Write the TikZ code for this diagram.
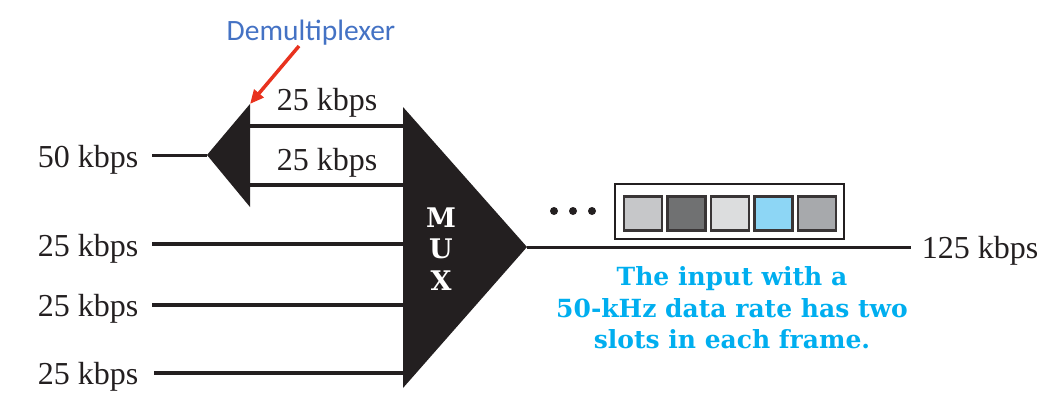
\documentclass[tikz,border=0pt]{standalone}
\usepackage{fontspec}
\setmainfont{Liberation Serif}
\newfontfamily\notefont{DejaVu Serif}
\newfontfamily\calib{Carlito}
\usetikzlibrary{arrows.meta}
\definecolor{demuxblue}{HTML}{4472C4}
\definecolor{notecyan}{HTML}{00AEEF}
\definecolor{arrowred}{HTML}{E8321E}
\definecolor{inkblack}{HTML}{231F20}
\definecolor{slotA}{HTML}{C6C7C9}
\definecolor{slotB}{HTML}{707172}
\definecolor{slotC}{HTML}{DCDDDE}
\definecolor{slotD}{HTML}{8DD6F5}
\definecolor{slotE}{HTML}{A7A9AC}
\begin{document}
\begin{tikzpicture}[x=1pt,y=-1pt,
  lbl/.style={font=\fontsize{32}{34}\selectfont, anchor=base, inner sep=0pt, text=inkblack},
  note/.style={font=\notefont\bfseries\fontsize{25}{30}\selectfont, anchor=base, inner sep=0pt, text=notecyan},
  muxletter/.style={font=\notefont\bfseries\fontsize{27}{30}\selectfont, anchor=base, inner sep=0pt, text=white},
  wire/.style={draw=inkblack, line width=4pt},
  thinwire/.style={draw=inkblack, line width=3pt},
  slot/.style={draw=inkblack!90, line width=2.5pt, minimum width=38pt, minimum height=34pt, inner sep=0pt},
  dot/.style={circle, fill=inkblack, minimum size=8pt, inner sep=0pt}]
\useasboundingbox (0,0) rectangle (1053,410);

% shapes
\fill[inkblack] (403,107) -- (527,247) -- (403,388) -- cycle;
\fill[inkblack] (207,155) -- (250,104) -- (250,207) -- cycle;

% coordinates
\coordinate (muxapex) at (527,247);
\coordinate (demuxtip) at (207,155);
\coordinate (d1) at (250,126);
\coordinate (d2) at (250,185);
\coordinate (m1) at (403,126);
\coordinate (m2) at (403,185);
\coordinate (m3) at (403,244);
\coordinate (m4) at (403,305);
\coordinate (m5) at (403,373);
\coordinate (s0) at (152,155);
\coordinate (s3) at (152,244);
\coordinate (s4) at (152,305);
\coordinate (s5) at (154,373);
\coordinate (outend) at (911,247);
\coordinate (arrowstart) at (299,46);
\coordinate (arrowtip) at (250,104);

% labels
\node[lbl] (l50) at (88,167) {50 kbps};
\node[lbl] (l3) at (88,256) {25 kbps};
\node[lbl] (l4) at (88,316) {25 kbps};
\node[lbl] (l5) at (88,384) {25 kbps};
\node[lbl] (lu1) at (327,110) {25 kbps};
\node[lbl] (lu2) at (327,170) {25 kbps};
\node[lbl] (l125) at (980,258) {125 kbps};
\node[font=\calib\fontsize{29.5}{31}\selectfont, text=demuxblue, anchor=base, inner sep=0pt] (demux) at (311,40) {Demultiplexer};

% MUX letters
\node[muxletter] (mM) at (441,227) {M};
\node[muxletter] (mU) at (441,258) {U};
\node[muxletter] (mX) at (441,290) {X};

% wires
\draw[thinwire] (s0) -- (demuxtip);
\draw[wire] (d1) -- (m1);
\draw[wire] (d2) -- (m2);
\draw[wire] (s3) -- (m3);
\draw[wire] (s4) -- (m4);
\draw[wire] (s5) -- (m5);
\draw[thinwire] (muxapex) -- (outend);

% frame
\node[draw=inkblack, line width=2pt, minimum width=229pt, minimum height=55pt, inner sep=0pt] (frame) at (729.5,211.5) {};
\node[slot, fill=slotA] (sa) at (643,213.5) {};
\node[slot, fill=slotB] (sb) at (686.5,213.5) {};
\node[slot, fill=slotC] (sc) at (730,213.5) {};
\node[slot, fill=slotD] (sd) at (773.5,213.5) {};
\node[slot, fill=slotE] (se) at (817,213.5) {};

% dots
\node[dot] (dt1) at (554,211) {};
\node[dot] (dt2) at (573,211) {};
\node[dot] (dt3) at (592,211) {};

% note
\node[note] (n1) at (732,285) {The input with a};
\node[note] (n2) at (732,317) {50-kHz data rate has two};
\node[note] (n3) at (732,348) {slots in each frame.};

% red arrow
\draw[arrowred, line width=3.5pt, -{Triangle[length=14pt, width=12pt]}] (arrowstart) -- (arrowtip);
\end{tikzpicture}
\end{document}
